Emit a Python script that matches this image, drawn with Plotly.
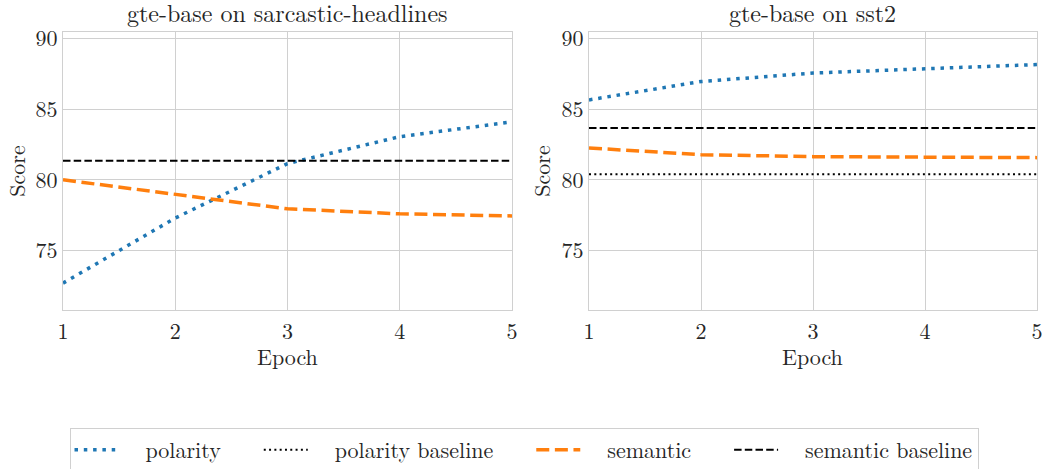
import plotly.graph_objects as go

epochs = [1, 2, 3, 4, 5]

# sarcastic-headlines
sarc_polarity = [72.7, 77.3, 81.15, 83.05, 84.1]
sarc_semantic = [80.0, 78.95, 77.95, 77.6, 77.45]
sarc_semantic_baseline = 81.35

# sst2
sst2_polarity = [85.65, 86.95, 87.55, 87.85, 88.15]
sst2_semantic = [82.25, 81.78, 81.64, 81.6, 81.57]
sst2_semantic_baseline = 83.67
sst2_polarity_baseline = 80.4

titles = ["gte-base on sarcastic-headlines", "gte-base on sst2"]
legend_names = ["polarity", "polarity baseline", "semantic", "semantic baseline"]
x_title = "Epoch"
y_title = "Score"
xticks = [1, 2, 3, 4, 5]
yticks = [75, 80, 85, 90]

FONT = "Latin Modern Roman, Times New Roman, serif"
BLUE = "#1f77b4"
ORANGE = "#ff7f0e"
TXT = "#262626"

W, H = 1046, 469
ml, mr, mt, mb = 63, 9, 32, 159
pw = W - ml - mr
ph = H - mt - mb

PRE = "\u00a0" * 2
PAD = "\u00a0" * 3

DOT_C = "3.5px,5.8px"
DASH_C = "13px,5.6px"
DOT_K = "2px,3.3px"
DASH_K = "7.5px,3.2px"

fig = go.Figure()

def add(x, y, name, color, width, dash, xa, ya, show, last=False):
    fig.add_trace(go.Scatter(x=x, y=y, mode="lines",
                             name=PRE + name + ("" if last else PAD),
                             line=dict(color=color, width=width, dash=dash),
                             xaxis=xa, yaxis=ya, showlegend=show,
                             legendgroup=name))

# legend order: polarity, polarity baseline, semantic, semantic baseline
add(epochs, sarc_polarity, legend_names[0], BLUE, 3.5, DOT_C, "x", "y", True)
add(epochs, [sst2_polarity_baseline] * len(epochs), legend_names[1], "black", 2, DOT_K, "x2", "y2", True)
add(epochs, sarc_semantic, legend_names[2], ORANGE, 3.5, DASH_C, "x", "y", True)
add(epochs, [sarc_semantic_baseline] * len(epochs), legend_names[3], "black", 2, DASH_K, "x", "y", True, last=True)

add(epochs, sst2_polarity, legend_names[0], BLUE, 3.5, DOT_C, "x2", "y2", False)
add(epochs, sst2_semantic, legend_names[2], ORANGE, 3.5, DASH_C, "x2", "y2", False)
add(epochs, [sst2_semantic_baseline] * len(epochs), legend_names[3], "black", 2, DASH_K, "x2", "y2", False)

left_dom = [0, (512 - ml) / pw]
right_dom = [(589 - ml) / pw, 1]

axcommon = dict(showgrid=True, gridcolor="#d0d0d0", gridwidth=1,
                showline=True, linecolor="#d0d0d0", linewidth=1, mirror=True,
                zeroline=False, ticks="", automargin=False,
                tickfont=dict(family=FONT, size=22, color=TXT))

xcommon = dict(axcommon, range=[1, 5], tickvals=xticks, ticklabelstandoff=2)
ycommon = dict(axcommon, range=[70.8, 90.45], tickvals=yticks,
               title=dict(text=y_title, font=dict(family=FONT, size=22, color=TXT), standoff=4))

annotations = []
for dom, t in zip([left_dom, right_dom], titles):
    annotations.append(dict(text=t, x=sum(dom) / 2, y=1, xref="paper", yref="paper",
                            xanchor="center", yanchor="middle", yshift=20, showarrow=False,
                            font=dict(family=FONT, size=24, color=TXT)))
    annotations.append(dict(text=x_title, x=sum(dom) / 2, y=0, xref="paper", yref="paper",
                            xanchor="center", yanchor="middle", yshift=-45, showarrow=False,
                            font=dict(family=FONT, size=22, color=TXT)))

fig.update_layout(
    width=W, height=H,
    margin=dict(l=ml, r=mr, t=mt, b=mb),
    plot_bgcolor="white", paper_bgcolor="white",
    xaxis=dict(xcommon, domain=left_dom, anchor="y"),
    yaxis=dict(ycommon, domain=[0, 1], anchor="x"),
    xaxis2=dict(xcommon, domain=right_dom, anchor="y2"),
    yaxis2=dict(ycommon, domain=[0, 1], anchor="x2"),
    legend=dict(orientation="h", xref="container", yref="container",
                x=524 / W, xanchor="center",
                y=1 - 428 / H, yanchor="top", itemwidth=44,
                bordercolor="#d0d0d0", borderwidth=1, bgcolor="white",
                font=dict(family=FONT, size=22, color=TXT)),
    annotations=annotations,
)

fig.write_html("out.html", config={"displayModeBar": False},
               post_script="document.body.style.margin='0';")
